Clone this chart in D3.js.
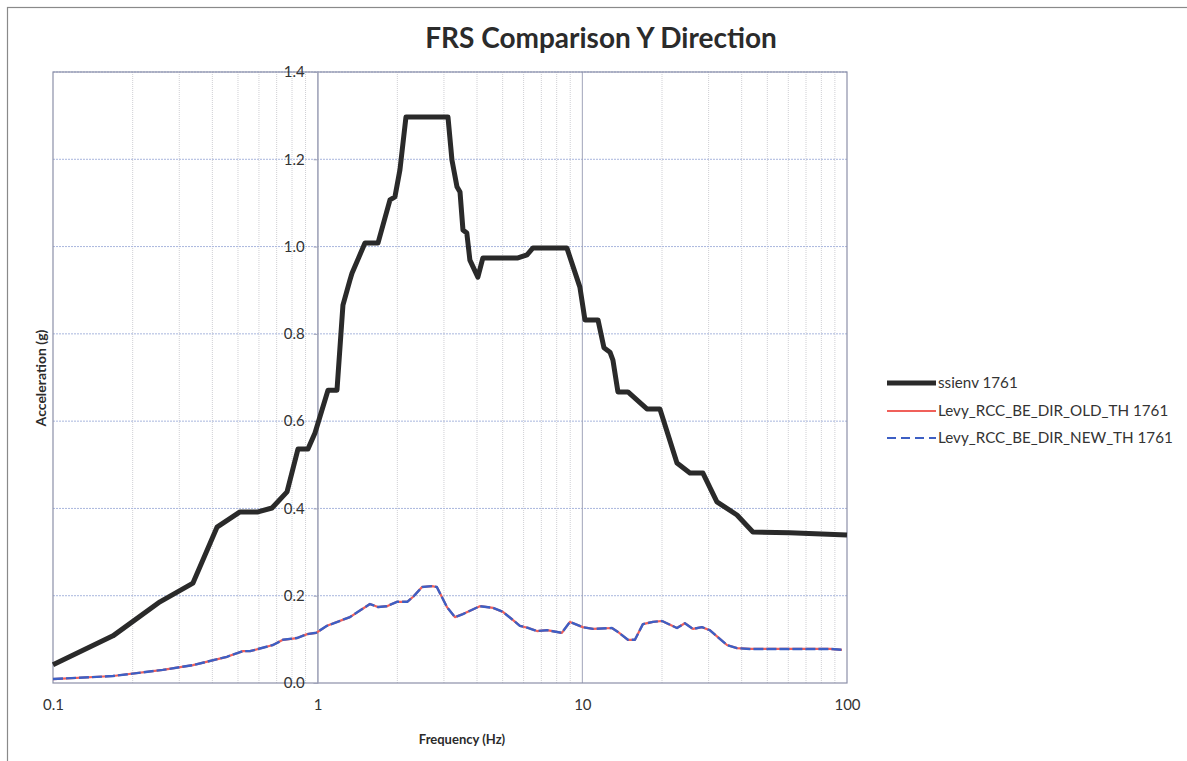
<!DOCTYPE html>
<html>
<head>
<meta charset="utf-8">
<script src="https://cdn.jsdelivr.net/npm/d3@7"></script>
<style>
  html, body { margin: 0; padding: 0; background: #fff; }
  svg { display: block; }
  text { font-family: Lato, "Open Sans", "DejaVu Sans", sans-serif; }
</style>
</head>
<body>
<svg id="chart" width="1187" height="761"></svg>
<script>
// Design envelope (ssienv 1761): frequency (Hz) and spectral acceleration (g)
const envFreq = [0.1, 0.1685, 0.2536, 0.338, 0.4165, 0.5087, 0.5948, 0.672, 0.766, 0.8424, 0.919, 0.977,
  1.094, 1.183, 1.246, 1.324, 1.348, 1.509, 1.69, 1.876, 1.959, 2.046, 2.156, 3.107, 3.217, 3.36, 3.45,
  3.54, 3.66, 3.76, 4.03, 4.21, 5.71, 6.18, 6.51, 8.74, 9.79, 10.23, 11.46, 12.07, 12.72, 13.05, 13.63,
  14.87, 17.54, 19.64, 22.78, 25.5, 28.55, 32.25, 38.4, 44.1, 60.8, 100];
const envAcc = [0.042, 0.108, 0.186, 0.229, 0.357, 0.392, 0.392, 0.401, 0.438, 0.536, 0.536, 0.573,
  0.671, 0.671, 0.866, 0.923, 0.939, 1.008, 1.008, 1.107, 1.114, 1.176, 1.297, 1.297, 1.198, 1.137, 1.125,
  1.038, 1.031, 0.969, 0.930, 0.974, 0.974, 0.981, 0.997, 0.997, 0.907, 0.832, 0.832, 0.768, 0.758, 0.740, 0.667,
  0.667, 0.628, 0.628, 0.504, 0.481, 0.481, 0.415, 0.385, 0.346, 0.344, 0.339];

// Time-history response spectra (old and new runs)
const thFreq = [0.1, 0.1685, 0.260, 0.338, 0.454, 0.522, 0.555, 0.678, 0.739, 0.835, 0.913, 0.987, 1.084,
  1.324, 1.576, 1.69, 1.827, 1.994, 2.18, 2.29, 2.48, 2.70, 2.82, 3.08, 3.30, 3.54, 4.10, 4.60, 5.01, 5.35,
  5.81, 6.26, 6.74, 7.35, 8.37, 8.98, 10.03, 10.97, 12.94, 13.63, 14.87, 15.8, 16.94, 18.48, 20.0, 22.78,
  24.4, 26.17, 28.3, 30.3, 32.5, 35.2, 38.4, 42.9, 86.2, 95.7];
const oldAcc = [0.009, 0.016, 0.030, 0.041, 0.060, 0.073, 0.073, 0.087, 0.099, 0.103, 0.112, 0.115, 0.131,
  0.151, 0.181, 0.174, 0.176, 0.186, 0.186, 0.197, 0.220, 0.222, 0.220, 0.174, 0.151, 0.158, 0.176, 0.172,
  0.163, 0.149, 0.131, 0.126, 0.119, 0.121, 0.115, 0.140, 0.128, 0.124, 0.126, 0.117, 0.099, 0.099, 0.135,
  0.140, 0.142, 0.126, 0.137, 0.124, 0.128, 0.121, 0.105, 0.087, 0.080, 0.078, 0.078, 0.076];
const newAcc = [0.009, 0.016, 0.030, 0.041, 0.060, 0.073, 0.073, 0.087, 0.099, 0.103, 0.112, 0.115, 0.131,
  0.151, 0.181, 0.174, 0.176, 0.186, 0.186, 0.197, 0.220, 0.222, 0.220, 0.174, 0.151, 0.158, 0.176, 0.172,
  0.163, 0.149, 0.131, 0.126, 0.119, 0.121, 0.115, 0.140, 0.128, 0.124, 0.126, 0.117, 0.099, 0.099, 0.135,
  0.140, 0.142, 0.126, 0.137, 0.124, 0.128, 0.121, 0.105, 0.087, 0.080, 0.078, 0.078, 0.076];

const xTickValues = [0.1, 1, 10, 100];
const xTickLabels = ["0.1", "1", "10", "100"];
const yTickValues = [0, 0.2, 0.4, 0.6, 0.8, 1.0, 1.2, 1.4];

const seriesNames = ["ssienv 1761", "Levy_RCC_BE_DIR_OLD_TH 1761", "Levy_RCC_BE_DIR_NEW_TH 1761"];

const svg = d3.select("#chart");
const plot = { left: 53, right: 847, top: 72, bottom: 683 };

const x = d3.scaleLog().domain([0.1, 100]).range([plot.left, plot.right]);
const y = d3.scaleLinear().domain([0, 1.4]).range([plot.bottom, plot.top]);

// Chart-area frame
svg.append("rect")
  .attr("x", 7.5).attr("y", 7.5).attr("width", 1200).attr("height", 800)
  .attr("fill", "none").attr("stroke", "#8a8a8a").attr("stroke-width", 1.2);

// Title
svg.append("text")
  .attr("x", 601).attr("y", 48)
  .attr("text-anchor", "middle")
  .attr("font-size", 28).attr("font-weight", "bold").attr("fill", "#2b2b2b")
  .text("FRS Comparison Y Direction");

const grid = svg.append("g");

// Minor vertical gridlines (2..9 in each decade)
const minorTicks = [];
[0.1, 1, 10].forEach(d => { for (let k = 2; k <= 9; k++) minorTicks.push(d * k); });
grid.selectAll(".minor").data(minorTicks).join("line")
  .attr("x1", d => x(d)).attr("x2", d => x(d))
  .attr("y1", plot.top).attr("y2", plot.bottom)
  .attr("stroke", "#cfcfd4").attr("stroke-width", 1).attr("stroke-dasharray", "1,1");

// Major horizontal gridlines
grid.selectAll(".hmajor").data(yTickValues.slice(1)).join("line")
  .attr("x1", plot.left).attr("x2", plot.right)
  .attr("y1", d => y(d)).attr("y2", d => y(d))
  .attr("stroke", "#a9b6dd").attr("stroke-width", 1).attr("stroke-dasharray", "2,1");

// Major vertical gridlines
grid.selectAll(".vmajor").data([1, 10]).join("line")
  .attr("x1", d => x(d)).attr("x2", d => x(d))
  .attr("y1", plot.top).attr("y2", plot.bottom)
  .attr("stroke", "#a0a4ba").attr("stroke-width", 1);

// Plot-area border
svg.append("rect")
  .attr("x", plot.left).attr("y", plot.top)
  .attr("width", plot.right - plot.left).attr("height", plot.bottom - plot.top)
  .attr("fill", "none").attr("stroke", "#8c90a8").attr("stroke-width", 1.2);

// X axis (bottom)
const xAxis = d3.axisBottom(x).tickValues(xTickValues)
  .tickFormat((d, i) => xTickLabels[i]).tickSize(0).tickPadding(16);
const gx = svg.append("g").attr("transform", `translate(0,${plot.bottom})`).call(xAxis);
gx.select(".domain").remove();
gx.selectAll("text").attr("font-size", 15).attr("fill", "#333")
  .attr("font-family", "Lato, 'Open Sans', sans-serif");

// Y axis crossing at 1 Hz
const yAxis = d3.axisLeft(y).tickValues(yTickValues).tickFormat(d3.format(".1f"))
  .tickSize(4).tickPadding(9);
const gy = svg.append("g").attr("transform", `translate(${x(1)},0)`).call(yAxis);
gy.select(".domain").attr("stroke", "#a0a4ba");
gy.selectAll(".tick line").attr("stroke", "#a0a4ba");
gy.selectAll("text").attr("font-size", 15).attr("fill", "#333")
  .attr("font-family", "Lato, 'Open Sans', sans-serif");

// Axis titles
svg.append("text")
  .attr("x", 462).attr("y", 744).attr("text-anchor", "middle")
  .attr("font-size", 13).attr("font-weight", "bold").attr("fill", "#2b2b2b")
  .text("Frequency (Hz)");
svg.append("text")
  .attr("transform", "translate(46,378) rotate(-90)").attr("text-anchor", "middle")
  .attr("font-size", 14).attr("font-weight", "bold").attr("fill", "#2b2b2b")
  .text("Acceleration (g)");

// Series
const line = d3.line().x(d => x(d[0])).y(d => y(d[1]));
const envPts = envFreq.map((f, i) => [f, envAcc[i]]);
const oldPts = thFreq.map((f, i) => [f, oldAcc[i]]);
const newPts = thFreq.map((f, i) => [f, newAcc[i]]);

svg.append("path").datum(oldPts).attr("d", line)
  .attr("fill", "none").attr("stroke", "#f0605a").attr("stroke-width", 2.2)
  .attr("stroke-linejoin", "round");
svg.append("path").datum(newPts).attr("d", line)
  .attr("fill", "none").attr("stroke", "#3d5fc4").attr("stroke-width", 2.4)
  .attr("stroke-dasharray", "10,3").attr("stroke-linejoin", "round");
svg.append("path").datum(envPts).attr("d", line)
  .attr("fill", "none").attr("stroke", "#2a2a2a").attr("stroke-width", 5)
  .attr("stroke-linejoin", "round");

// Legend
const legend = svg.append("g");
const legendStyles = [
  { color: "#2a2a2a", width: 5, dash: null, y: 383 },
  { color: "#f0605a", width: 1.8, dash: null, y: 411 },
  { color: "#3d5fc4", width: 2, dash: "9,5", y: 438 }
];
legendStyles.forEach((s, i) => {
  legend.append("line")
    .attr("x1", 887).attr("x2", 936).attr("y1", s.y).attr("y2", s.y)
    .attr("stroke", s.color).attr("stroke-width", s.width)
    .attr("stroke-dasharray", s.dash);
  legend.append("text")
    .attr("x", 938).attr("y", s.y + 5)
    .attr("font-size", 15.2).attr("fill", "#333")
    .text(seriesNames[i]);
});
</script>
</body>
</html>
